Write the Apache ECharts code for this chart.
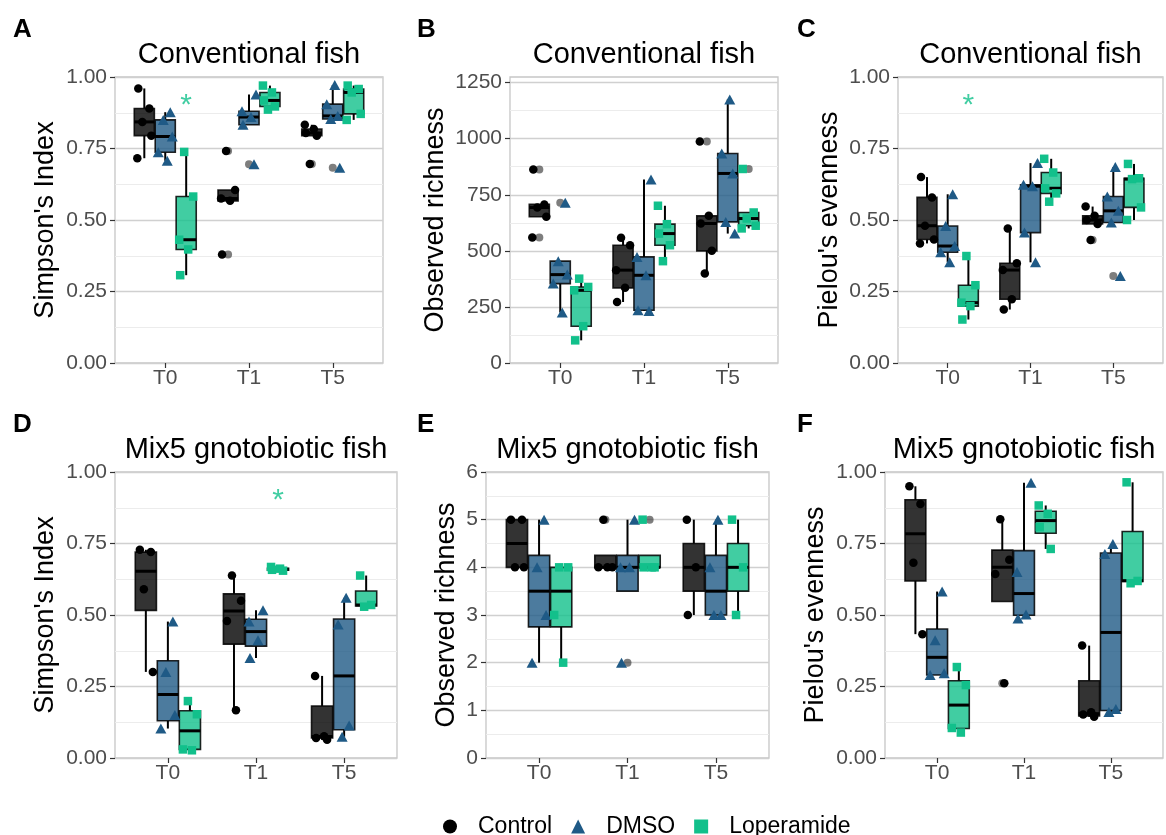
<!DOCTYPE html>
<html>
<head>
<meta charset="utf-8">
<script src="https://cdn.jsdelivr.net/npm/echarts@6/dist/echarts.min.js"></script>
<style>
html,body{margin:0;padding:0;background:#ffffff;}
#chart{width:1166px;height:835px;}
</style>
</head>
<body>
<div id="chart"></div>
<script>
// ---------------- data ----------------
const categories = ['T0', 'T1', 'T5'];
const groups = ['Control', 'DMSO', 'Loperamide'];

// y-axis tick labels
const ratioTicks = [0, 0.25, 0.5, 0.75, 1];
const richConvTicks = [0, 250, 500, 750, 1000, 1250];
const richMixTicks = [0, 1, 2, 3, 4, 5, 6];

// box stats per group: [lower whisker, Q1, median, Q3, upper whisker] for T0, T1, T5
// Panel A - Simpson's Index, Conventional fish
const simpConvBox = {
  Control:    [[0.716,0.795,0.843,0.890,0.960],[0.567,0.567,0.575,0.605,0.605],[0.795,0.795,0.804,0.818,0.833]],
  DMSO:       [[0.707,0.737,0.792,0.850,0.877],[0.833,0.833,0.860,0.880,0.939],[0.853,0.853,0.864,0.905,0.972]],
  Loperamide: [[0.307,0.397,0.431,0.582,0.738],[0.886,0.897,0.918,0.946,0.970],[0.850,0.871,0.946,0.958,0.970]]
};
const simpConvPts = {
  Control:    [[0.960,0.890,0.843,0.795,0.716],[0.741,0.605,0.575,0.567,0.379],[0.833,0.818,0.804,0.795,0.696]],
  DMSO:       [[0.877,0.850,0.792,0.737,0.707],[0.939,0.880,0.860,0.833,0.695],[0.972,0.905,0.864,0.853,0.683]],
  Loperamide: [[0.738,0.582,0.431,0.397,0.307],[0.970,0.946,0.918,0.897,0.886],[0.970,0.958,0.946,0.871,0.850]]
};
// Panel B - Observed richness, Conventional fish
const richConvBox = {
  Control:    [[652,652,693,707,707],[272,335,414,525,558],[399,500,622,656,656]],
  DMSO:       [[225,354,394,454,454],[232,235,391,473,818],[577,629,845,934,1175]],
  Loperamide: [[101,164,324,339,376],[454,525,577,619,701],[600,612,644,671,671]]
};
const richConvPts = {
  Control:    [[863,707,693,652,559],[558,525,414,335,272],[987,656,622,500,399]],
  DMSO:       [[714,454,394,354,225],[818,473,391,235,232],[1175,934,845,629,577]],
  Loperamide: [[376,339,324,164,101],[701,619,577,525,454],[865,671,644,612,600]]
};
// Panel C - Pielou's evenness, Conventional fish
const evenConvBox = {
  Control:    [[0.418,0.432,0.480,0.579,0.650],[0.187,0.223,0.325,0.349,0.470],[0.486,0.486,0.500,0.515,0.547]],
  DMSO:       [[0.352,0.387,0.409,0.479,0.590],[0.352,0.456,0.618,0.623,0.699],[0.491,0.491,0.532,0.582,0.685]],
  Loperamide: [[0.152,0.199,0.211,0.272,0.374],[0.564,0.593,0.611,0.666,0.714],[0.500,0.544,0.643,0.646,0.696]]
};
const evenConvPts = {
  Control:    [[0.650,0.579,0.480,0.432,0.418],[0.470,0.349,0.325,0.223,0.187],[0.547,0.515,0.500,0.486,0.430]],
  DMSO:       [[0.590,0.479,0.409,0.387,0.352],[0.699,0.623,0.618,0.456,0.352],[0.685,0.582,0.532,0.491,0.304]],
  Loperamide: [[0.374,0.272,0.211,0.199,0.152],[0.714,0.666,0.611,0.593,0.564],[0.696,0.646,0.643,0.544,0.500]]
};
// Panel D - Simpson's Index, Mix5 gnotobiotic fish
const simpMixBox = {
  Control:    [[0.301,0.516,0.653,0.720,0.728],[0.167,0.398,0.514,0.574,0.638],[0.064,0.070,0.075,0.182,0.287]],
  DMSO:       [[0.103,0.130,0.222,0.340,0.477],[0.350,0.391,0.442,0.485,0.517],[0.074,0.099,0.287,0.486,0.560]],
  Loperamide: [[0.027,0.030,0.095,0.165,0.199],[0.655,0.657,0.660,0.663,0.668],[0.529,0.532,0.535,0.584,0.638]]
};
const simpMixPts = {
  Control:    [[0.728,0.720,0.590,0.301],[0.638,0.550,0.479,0.167],[0.287,0.076,0.070,0.064]],
  DMSO:       [[0.477,0.301,0.150,0.103],[0.517,0.477,0.412,0.350],[0.560,0.467,0.114,0.074]],
  Loperamide: [[0.199,0.153,0.030,0.027],[0.668,0.662,0.658,0.655],[0.638,0.535,0.529]]
};
// Panel E - Observed richness, Mix5 gnotobiotic fish
const richMixBox = {
  Control:    [[4,4,4.5,5,5],[4,4,4,4.25,4.25],[3,3.5,4,4.5,5]],
  DMSO:       [[2,2.75,3.5,4.25,5],[3.5,3.5,4,4.25,5],[3,3,3.5,4.25,5]],
  Loperamide: [[2,2.75,3.5,4,4],[4,4,4,4.25,4.25],[3,3.5,4,4.5,5]]
};
const richMixPts = {
  Control:    [[5,5,4,4],[5,4,4,4],[5,4,3]],
  DMSO:       [[5,4,3,2],[5,4,4,2],[5,4,3,3]],
  Loperamide: [[4,4,3,2],[5,4,4,4],[5,4,3]]
};
// Panel F - Pielou's evenness, Mix5 gnotobiotic fish
const evenMixBox = {
  Control:    [[0.433,0.619,0.784,0.903,0.950],[0.547,0.547,0.667,0.727,0.835],[0.144,0.147,0.155,0.270,0.393]],
  DMSO:       [[0.290,0.290,0.352,0.451,0.582],[0.488,0.499,0.575,0.725,0.962],[0.161,0.166,0.439,0.717,0.748]],
  Loperamide: [[0.089,0.103,0.185,0.270,0.318],[0.731,0.786,0.830,0.863,0.883],[0.611,0.617,0.620,0.792,0.964]]
};
const evenMixPts = {
  Control:    [[0.950,0.888,0.683,0.433],[0.835,0.693,0.643,0.261],[0.393,0.160,0.152,0.144]],
  DMSO:       [[0.582,0.412,0.296,0.290],[0.962,0.650,0.502,0.488],[0.748,0.713,0.171,0.161]],
  Loperamide: [[0.318,0.255,0.105,0.089],[0.883,0.854,0.807,0.731],[0.964,0.619,0.611]]
};
// significance markers: [panel, category, group, value]
const sigMarks = [['A','T0','Loperamide',0.90],['C','T0','Loperamide',0.90],['D','T1','Loperamide',0.90]];

// ---------------- layout / style ----------------
const FONT = '"Liberation Sans", Arial, Helvetica, sans-serif';
const pointColor = { Control: '#000000', DMSO: '#1f5a86', Loperamide: '#12c08b' };
const boxFill = { Control: 'rgba(0,0,0,0.8)', DMSO: 'rgba(31,90,134,0.8)', Loperamide: 'rgba(18,192,139,0.8)' };
const symbols = { Control: 'circle', DMSO: 'triangle', Loperamide: 'rect' };
const symbolSizes = { Control: 8.5, DMSO: [11, 10], Loperamide: 8.5 };
const dodge = [-0.25, 0, 0.25];
const BOX_W = 0.24;
const jitterPx = [-6, 5, -2, 7, -7, 2];

const panels = [
  { key:'A', title:'Conventional fish', yName:"Simpson's Index", box:simpConvBox, pts:simpConvPts, ticks:ratioTicks, max:1, step:0.25, dec:2, left:115, top:77, width:268, height:286, nameGap:56, letterX:13 },
  { key:'B', title:'Conventional fish', yName:'Observed richness', box:richConvBox, pts:richConvPts, ticks:richConvTicks, max:1275, step:250, dec:0, left:510, top:77, width:268, height:286, nameGap:61, letterX:417 },
  { key:'C', title:'Conventional fish', yName:"Pielou's evenness", box:evenConvBox, pts:evenConvPts, ticks:ratioTicks, max:1, step:0.25, dec:2, left:898, top:77, width:265, height:286, nameGap:55, letterX:797 },
  { key:'D', title:'Mix5 gnotobiotic fish', yName:"Simpson's Index", box:simpMixBox, pts:simpMixPts, ticks:ratioTicks, max:1, step:0.25, dec:2, left:115, top:472, width:282, height:286, nameGap:56, letterX:13 },
  { key:'E', title:'Mix5 gnotobiotic fish', yName:'Observed richness', box:richMixBox, pts:richMixPts, ticks:richMixTicks, max:6, step:1, dec:0, left:486, top:472, width:283, height:286, nameGap:26, letterX:417 },
  { key:'F', title:'Mix5 gnotobiotic fish', yName:"Pielou's evenness", box:evenMixBox, pts:evenMixPts, ticks:ratioTicks, max:1, step:0.25, dec:2, left:885, top:472, width:278, height:286, nameGap:56, letterX:797 }
];

function makeBoxRenderer(fill) {
  return function (params, api) {
    const x = api.value(0);
    const lo = api.coord([x, api.value(1)]);
    const q1 = api.coord([x, api.value(2)]);
    const md = api.coord([x, api.value(3)]);
    const q3 = api.coord([x, api.value(4)]);
    const hi = api.coord([x, api.value(5)]);
    const half = api.size([BOX_W, 0])[0] / 2;
    const cx = md[0];
    return {
      type: 'group',
      children: [
        { type:'line', shape:{ x1:cx, y1:q1[1], x2:cx, y2:lo[1] }, style:{ stroke:'#000', lineWidth:2 } },
        { type:'line', shape:{ x1:cx, y1:q3[1], x2:cx, y2:hi[1] }, style:{ stroke:'#000', lineWidth:2 } },
        { type:'rect', shape:{ x:cx - half, y:q3[1], width:half * 2, height:q1[1] - q3[1] },
          style:{ fill:fill, stroke:'rgba(0,0,0,0.85)', lineWidth:1.6 } },
        { type:'line', shape:{ x1:cx - half, y1:md[1], x2:cx + half, y2:md[1] }, style:{ stroke:'#000', lineWidth:3 } }
      ]
    };
  };
}

const grids = [], xAxes = [], yAxes = [], series = [], graphics = [];

panels.forEach(function (p, i) {
  grids.push({ left:p.left, top:p.top, width:p.width, height:p.height, show:true,
    borderColor:'#c6c6c6', borderWidth:1.3, backgroundColor:'transparent' });
  xAxes.push({
    type:'value', gridIndex:i, min:0.4, max:3.6,
    axisLine:{ show:false }, splitLine:{ show:false },
    axisTick:{ show:true, length:5, lineStyle:{ color:'#333', width:1.2 }, customValues:[1,2,3] },
    axisLabel:{ customValues:[1,2,3], formatter:function (v) { return categories[Math.round(v) - 1] || ''; },
      color:'#4d4d4d', fontSize:21, margin:5, fontFamily:FONT }
  });
  yAxes.push({
    type:'value', gridIndex:i, min:0, max:p.max, interval:p.step,
    name:p.yName, nameLocation:'middle', nameGap:p.nameGap,
    nameTextStyle:{ fontSize:27, color:'#000', fontFamily:FONT },
    axisLine:{ show:false },
    axisTick:{ show:true, length:5, lineStyle:{ color:'#333', width:1.2 }, customValues:p.ticks },
    axisLabel:{ customValues:p.ticks, formatter:function (v) { return Number(v).toFixed(p.dec); },
      color:'#4d4d4d', fontSize:21, margin:8, fontFamily:FONT },
    splitLine:{ show:true, lineStyle:{ color:'#d0d0d0', width:1.3 } },
    minorTick:{ show:false, splitNumber:2 },
    minorSplitLine:{ show:true, lineStyle:{ color:'#ececec', width:1 } }
  });

  groups.forEach(function (g, gi) {
    const boxData = p.box[g].map(function (b, ci) { return [ci + 1 + dodge[gi]].concat(b); });
    series.push({
      type:'custom', name:g + ' box', xAxisIndex:i, yAxisIndex:i, z:2,
      renderItem:makeBoxRenderer(boxFill[g]),
      encode:{ x:0, y:[1,2,3,4,5] },
      data:boxData, silent:true
    });
    const ptData = [], outData = [];
    p.pts[g].forEach(function (vals, ci) {
      const b = p.box[g][ci];
      const xc = ci + 1 + dodge[gi];
      vals.forEach(function (v, k) {
        ptData.push({ value:[xc, v], symbolOffset:[jitterPx[(k + ci * 2 + gi) % jitterPx.length], 0] });
        if (v < b[0] - 1e-9 || v > b[4] + 1e-9) outData.push([xc, v]);
      });
    });
    series.push({
      type:'scatter', name:'outlier', xAxisIndex:i, yAxisIndex:i, z:3, silent:true,
      symbol:'circle', symbolSize:8, itemStyle:{ color:'rgba(40,40,40,0.75)' }, data:outData
    });
    series.push({
      type:'scatter', name:g, xAxisIndex:i, yAxisIndex:i, z:4, silent:true,
      symbol:symbols[g], symbolSize:symbolSizes[g], itemStyle:{ color:pointColor[g], opacity:1 }, data:ptData
    });
  });

  const sig = sigMarks.filter(function (s) { return s[0] === p.key; }).map(function (s) {
    return [categories.indexOf(s[1]) + 1 + dodge[groups.indexOf(s[2])], s[3]];
  });
  if (sig.length) {
    series.push({
      type:'scatter', name:'sig', xAxisIndex:i, yAxisIndex:i, z:5, silent:true,
      symbol:'circle', symbolSize:1, itemStyle:{ color:'rgba(0,0,0,0)' },
      label:{ show:true, position:'inside', formatter:'*', fontSize:30, color:pointColor.Loperamide, fontFamily:FONT },
      data:sig
    });
  }

  graphics.push({ type:'text', x:p.left + p.width / 2, y:p.top - 22,
    style:{ text:p.title, font:'29px ' + FONT, fill:'#000', align:'center', verticalAlign:'middle' } });
  graphics.push({ type:'text', x:p.letterX, y:p.top - 47,
    style:{ text:p.key, font:'bold 26px ' + FONT, fill:'#000', align:'left', verticalAlign:'middle' } });
});

const chart = echarts.init(document.getElementById('chart'), null, { renderer:'canvas' });
chart.setOption({
  animation:false,
  backgroundColor:'#ffffff',
  textStyle:{ fontFamily:FONT },
  grid:grids,
  xAxis:xAxes,
  yAxis:yAxes,
  legend:{
    left:438, top:810, orient:'horizontal',
    itemWidth:14, itemHeight:14, itemGap:19,
    selectedMode:false,
    data:[ { name:'Control', icon:'circle' }, { name:'DMSO', icon:'triangle' }, { name:'Loperamide', icon:'rect' } ],
    textStyle:{ fontSize:23, color:'#000', fontFamily:FONT, padding:[0, 0, 0, 16] }
  },
  graphic:graphics,
  series:series
});
</script>
</body>
</html>
